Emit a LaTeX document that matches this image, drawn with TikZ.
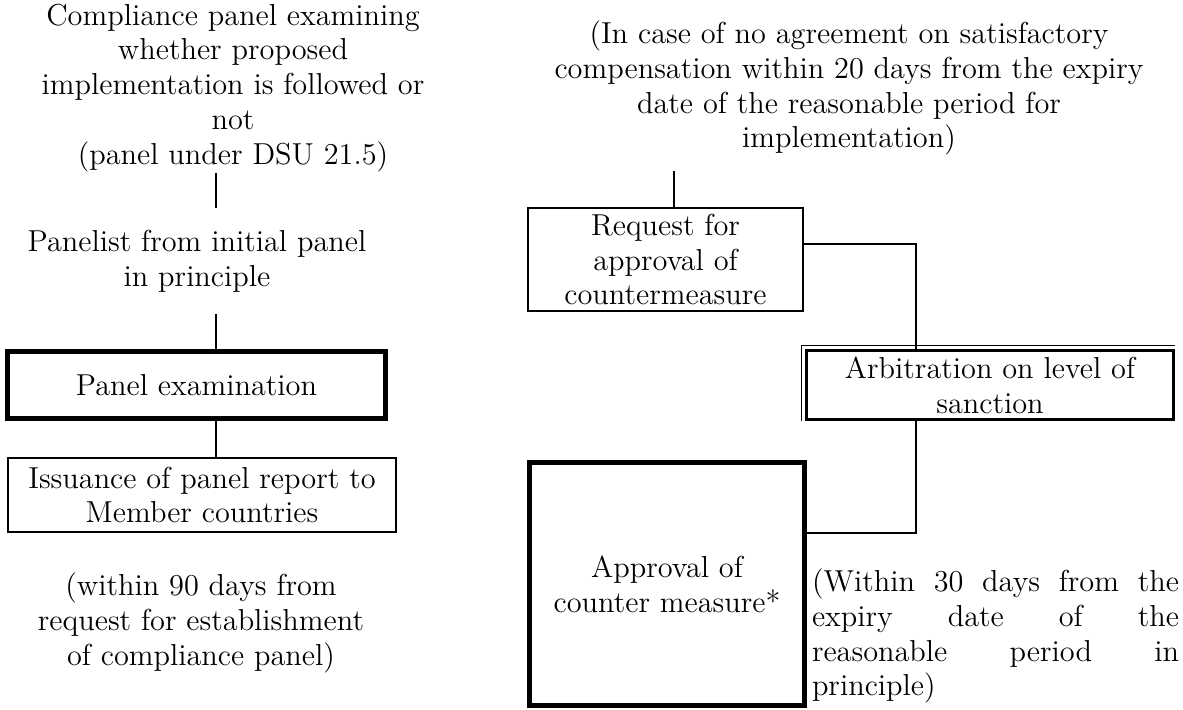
\documentclass[tikz,border=0pt]{standalone}
\usepackage{amsmath}
\usepackage{tikz}

\begin{document}
\begin{tikzpicture}[x=0.0145cm, y=-0.0145cm,
  font=\fontsize{12.5}{14.4}\selectfont,
  txt/.style={align=center, inner sep=0pt},
  box/.style={draw, line width=0.8pt, align=center, inner sep=0pt},
  heavybox/.style={draw, line width=2pt, align=center, inner sep=0pt},
  link/.style={line width=0.8pt}]

\useasboundingbox (0,0) rectangle (1183,710);

\node[txt] (compl) at (233,88) {Compliance panel examining\\ whether proposed\\ implementation is followed or\\ not\\ (panel under DSU 21.5)};
\node[txt, inner ysep=9pt] (panelist) at (197,261) {Panelist from initial panel\\ in principle};
\node[heavybox, minimum width=5.48cm, minimum height=0.96cm] (exam) at (196.5,385) {Panel examination};
\node[box, minimum width=5.63cm, minimum height=1.07cm] (report) at (202,495) {Issuance of panel report to\\ Member countries};
\node[txt] (within) at (201,623) {(within 90 days from\\ request for establishment\\ of compliance panel)};

\node[txt, inner ysep=6pt] (nocomp) at (849,88) {(In case of no agreement on satisfactory\\ compensation within 20 days from the expiry\\ date of the reasonable period for\\ implementation)};
\node[box, minimum width=3.99cm, minimum height=1.49cm] (request) at (665.5,259.5) {Request for\\ approval of\\ countermeasure};
\node[draw, line width=1.2pt, align=center, inner sep=0pt, minimum width=5.31cm, minimum height=0.99cm] (arbit) at (990,385) {Arbitration on level of\\ sanction};
\node[heavybox, minimum width=3.99cm, minimum height=3.52cm] (approval) at (667,584) {Approval of\\ counter measure*};
\node[txt, text width=5.32cm, align=justify] (note) at (995.5,636) {(Within 30 days from the\linebreak expiry date of the\linebreak reasonable period in\linebreak principle)};

\coordinate (lx) at (216,0);
\coordinate (rx) at (674,0);
\coordinate (bend1) at (916,244);
\coordinate (bend2) at (916,533);

\draw[link] (lx |- compl.south) -- (lx |- panelist.north);
\draw[link] (lx |- panelist.south) -- (lx |- exam.north);
\draw[link] (lx |- exam.south) -- (lx |- report.north);
\draw[link] (rx |- nocomp.south) -- (rx |- request.north);
\draw[link] (request.east |- bend1) -- (bend1) -- (arbit.north -| bend1);
\draw[link] (arbit.south -| bend2) -- (bend2) -- (approval.east |- bend2);
\draw[line width=0.6pt] ([shift={(-4,0)}]arbit.south west) -- ([shift={(-4,-4)}]arbit.north west) -- ([shift={(0,-4)}]arbit.north east);
\end{tikzpicture}
\end{document}
